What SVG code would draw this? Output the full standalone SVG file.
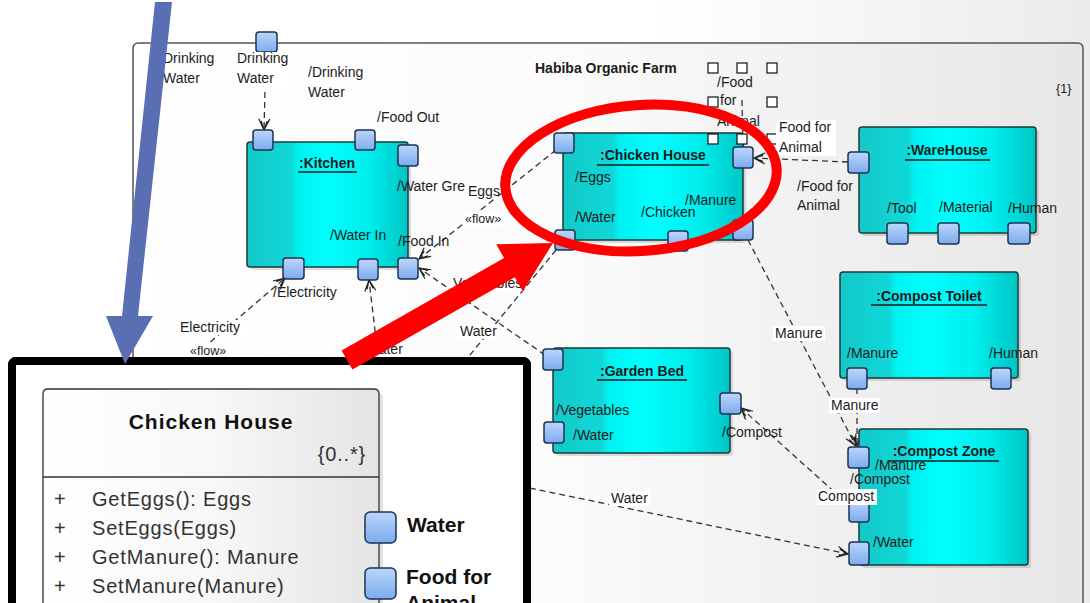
<svg xmlns="http://www.w3.org/2000/svg" width="1090" height="603" viewBox="0 0 1090 603">
<defs>
<linearGradient id="page" x1="0" y1="0" x2="1" y2="0"><stop offset="0" stop-color="#ffffff"/><stop offset="0.6" stop-color="#ffffff"/><stop offset="1" stop-color="#ebebeb"/></linearGradient>
<linearGradient id="frameg" x1="0" y1="0" x2="1" y2="0"><stop offset="0" stop-color="#ffffff"/><stop offset="0.45" stop-color="#fbfbfb"/><stop offset="1" stop-color="#e6e6e6"/></linearGradient>
<linearGradient id="cy" x1="0" y1="0" x2="1" y2="0"><stop offset="0" stop-color="#14c8c8"/><stop offset="0.28" stop-color="#10d8d8"/><stop offset="0.31" stop-color="#00f0f0"/><stop offset="0.5" stop-color="#00ffff"/><stop offset="0.75" stop-color="#00eeee"/><stop offset="1" stop-color="#00c6c6"/></linearGradient>
<linearGradient id="pt" x1="0" y1="0" x2="0" y2="1"><stop offset="0" stop-color="#bcd6fb"/><stop offset="1" stop-color="#7cabef"/></linearGradient>
<linearGradient id="cls" x1="0" y1="0" x2="1" y2="0"><stop offset="0" stop-color="#ffffff"/><stop offset="0.5" stop-color="#f8f8f8"/><stop offset="1" stop-color="#e4e4e4"/></linearGradient>
<marker id="arr" viewBox="0 0 13 13" refX="12" refY="6.5" markerWidth="13" markerHeight="13" markerUnits="userSpaceOnUse" orient="auto">
<path d="M1,1 L12,6.5 L1,12 M3,3.5 L12,6.5 L3,9.5" fill="none" stroke="#222" stroke-width="1.2"/>
</marker>
<style>
.lbl{font-family:"Liberation Sans",Arial,sans-serif;font-size:14px;fill:#1c1c1c}
.sm{font-size:12.5px}
.ttl{font-family:"Liberation Sans",Arial,sans-serif;font-size:14px;font-weight:bold;fill:#1c1c1c;text-anchor:middle}
.ul{stroke:#1c1c1c;stroke-width:1.4}
.node{fill:url(#cy);stroke:#1d3a3a;stroke-width:1.5}
.shadow{fill:#000;opacity:0.12}
.port{fill:url(#pt);stroke:#1c3350;stroke-width:1.5}
.c{fill:none;stroke:#333;stroke-width:1.3;stroke-dasharray:6 4}
.bg{fill:#fff}
.h{fill:#fff;stroke:#111;stroke-width:1.2}
.ins{font-family:"Liberation Sans",Arial,sans-serif;font-size:20px;fill:#333;letter-spacing:0.8px}
.insb{font-family:"Liberation Sans",Arial,sans-serif;font-size:21px;font-weight:bold;fill:#111}
</style>
</defs>

<rect x="0" y="0" width="1090" height="603" fill="url(#page)"/>

<g id="frame">
<rect x="133" y="43" width="950" height="600" rx="5" fill="url(#frameg)" stroke="#555" stroke-width="1.5"/>
<text class="lbl" x="535" y="73" font-weight="bold">Habiba Organic Farm</text>
<text class="lbl sm" x="1056" y="93">{1}</text>
<rect class="port" x="256" y="32" width="21" height="20" rx="3"/>
<text class="lbl" x="163" y="63">Drinking</text>
<text class="lbl" x="163" y="83">Water</text>
</g>

<g id="connectors">
<path class="c" d="M266,52 L264,130" marker-end="url(#arr)"/>
<path class="c" d="M180,368 L285,278" marker-end="url(#arr)"/>
<path class="c" d="M380,372 L369,280" marker-end="url(#arr)"/>
<path class="c" d="M556,150 L419,259" marker-end="url(#arr)"/>
<path class="c" d="M545,355 L419,268" marker-end="url(#arr)"/>
<path class="c" d="M556,250 L447,383"/>
<path class="c" d="M748,240 L856,446" marker-end="url(#arr)"/>
<path class="c" d="M857,388 L857,446" marker-end="url(#arr)"/>
<path class="c" d="M849,505 L741,408" marker-end="url(#arr)"/>
<path class="c" d="M520,486 L848,554" marker-end="url(#arr)"/>
<path class="c" d="M848,162 L754,158" marker-end="url(#arr)"/>
<path class="c" d="M742,100 L743,147" stroke-dasharray="4 3" stroke-width="1"/>
</g>

<g id="kitchen">
<rect class="shadow" x="250" y="145" width="161" height="125" rx="3"/>
<rect class="node" x="247" y="142" width="161" height="125" rx="3"/>
<text class="ttl" x="327" y="168">:Kitchen</text>
<line class="ul" x1="298" y1="172" x2="357" y2="172"/>
<rect class="port" x="253" y="130" width="20" height="20" rx="3"/>
<rect class="port" x="355" y="130" width="20" height="20" rx="3"/>
<rect class="port" x="398" y="145" width="20" height="21" rx="3"/>
<rect class="port" x="283" y="258" width="21" height="21" rx="3"/>
<rect class="port" x="358" y="259" width="20" height="21" rx="3"/>
<rect class="port" x="398" y="258" width="20" height="21" rx="3"/>
<text class="lbl" x="308" y="77">/Drinking</text>
<text class="lbl" x="308" y="97">Water</text>
<text class="lbl" x="377" y="122">/Food Out</text>
<text class="lbl" x="397" y="191">/Water Gre</text>
<text class="lbl" x="330" y="240">/Water In</text>
<text class="lbl" x="398" y="246">/Food In</text>
<text class="lbl" x="273" y="297">/Electricity</text>
</g>

<g id="chicken-house">
<rect class="shadow" x="566" y="136" width="180" height="107" rx="3"/>
<rect class="node" x="563" y="133" width="180" height="107" rx="3"/>
<text class="ttl" x="653" y="160">:Chicken House</text>
<line class="ul" x1="597" y1="165" x2="709" y2="165"/>
<text class="lbl" x="575" y="182">/Eggs</text>
<text class="lbl" x="575" y="222">/Water</text>
<text class="lbl" x="641" y="217">/Chicken</text>
<text class="lbl" x="685" y="205">/Manure</text>
<rect class="port" x="554" y="133" width="20" height="20" rx="3"/>
<rect class="port" x="555" y="230" width="20" height="20" rx="3"/>
<rect class="port" x="668" y="231" width="20" height="20" rx="3"/>
<rect class="port" x="733" y="220" width="20" height="20" rx="3"/>
<rect class="port" x="733" y="147" width="20" height="21" rx="3"/>
<text class="lbl" x="717" y="87">/Food</text>
<text class="lbl" x="720" y="105">for</text>
<text class="lbl" x="717" y="126">Animal</text>
<rect class="h" x="708" y="63" width="10" height="10"/>
<rect class="h" x="737" y="63" width="10" height="10"/>
<rect class="h" x="767" y="63" width="10" height="10"/>
<rect class="h" x="708" y="97" width="10" height="10"/>
<rect class="h" x="767" y="97" width="10" height="10"/>
<rect class="h" x="708" y="134" width="10" height="10"/>
<rect class="h" x="737" y="134" width="10" height="10"/>
<rect class="h" x="767" y="134" width="10" height="10"/>
</g>

<g id="warehouse">
<rect class="shadow" x="862" y="130" width="177" height="106" rx="3"/>
<rect class="node" x="859" y="127" width="177" height="106" rx="3"/>
<text class="ttl" x="947" y="155">:WareHouse</text>
<line class="ul" x1="905" y1="160" x2="990" y2="160"/>
<text class="lbl" x="887" y="213">/Tool</text>
<text class="lbl" x="939" y="212">/Material</text>
<text class="lbl" x="1008" y="213">/Human</text>
<rect class="port" x="848" y="152" width="21" height="21" rx="3"/>
<rect class="port" x="887" y="223" width="21" height="21" rx="3"/>
<rect class="port" x="938" y="223" width="21" height="21" rx="3"/>
<rect class="port" x="1008" y="223" width="22" height="21" rx="3"/>
<text class="lbl" x="797" y="191">/Food for</text>
<text class="lbl" x="797" y="210">Animal</text>
</g>

<g id="compost-toilet">
<rect class="shadow" x="843" y="275" width="178" height="106" rx="3"/>
<rect class="node" x="840" y="272" width="178" height="106" rx="3"/>
<text class="ttl" x="929" y="301">:Compost Toilet</text>
<line class="ul" x1="871" y1="305" x2="987" y2="305"/>
<text class="lbl" x="847" y="358">/Manure</text>
<text class="lbl" x="989" y="358">/Human</text>
<rect class="port" x="847" y="368" width="20" height="21" rx="3"/>
<rect class="port" x="991" y="368" width="20" height="21" rx="3"/>
</g>

<g id="garden-bed">
<rect class="shadow" x="556" y="351" width="177" height="105" rx="3"/>
<rect class="node" x="553" y="348" width="177" height="105" rx="3"/>
<text class="ttl" x="642" y="376">:Garden Bed</text>
<line class="ul" x1="597" y1="380" x2="687" y2="380"/>
<text class="lbl" x="556" y="415">/Vegetables</text>
<text class="lbl" x="573" y="440">/Water</text>
<text class="lbl" x="722" y="437">/Compost</text>
<rect class="port" x="543" y="349" width="20" height="21" rx="3"/>
<rect class="port" x="544" y="422" width="20" height="21" rx="3"/>
<rect class="port" x="720" y="393" width="21" height="21" rx="3"/>
</g>

<g id="compost-zone">
<rect class="shadow" x="862" y="432" width="169" height="136" rx="3"/>
<rect class="node" x="859" y="429" width="169" height="136" rx="3"/>
<text class="ttl" x="944" y="456">:Compost Zone</text>
<line class="ul" x1="889" y1="461" x2="999" y2="461"/>
<rect class="port" x="848" y="447" width="21" height="21" rx="3"/>
<rect class="port" x="849" y="500" width="20" height="22" rx="3"/>
<rect class="port" x="849" y="542" width="20" height="23" rx="3"/>
<text class="lbl" x="875" y="470">/Manure</text>
<text class="lbl" x="850" y="484">/Compost</text>
<text class="lbl" x="873" y="547">/Water</text>
</g>

<g id="connector-labels">
<rect class="bg" x="235" y="52" width="55" height="36"/>
<text class="lbl" x="237" y="63">Drinking</text>
<text class="lbl" x="237" y="83">Water</text>
<rect class="bg" x="466" y="184" width="32" height="15"/>
<text class="lbl" x="468" y="196">Eggs</text>
<rect class="bg" x="463" y="212" width="44" height="14"/>
<text class="lbl sm" x="465" y="223">«flow»</text>
<rect class="bg" x="451" y="276" width="72" height="15"/>
<text class="lbl" x="453" y="288">Vegetables</text>
<rect class="bg" x="458" y="324" width="42" height="15"/>
<text class="lbl" x="460" y="336">Water</text>
<rect class="bg" x="178" y="320" width="70" height="15"/>
<text class="lbl" x="180" y="332">Electricity</text>
<rect class="bg" x="188" y="344" width="46" height="14"/>
<text class="lbl sm" x="190" y="355">«flow»</text>
<rect class="bg" x="364" y="342" width="40" height="15"/>
<text class="lbl" x="366" y="354">Water</text>
<rect class="bg" x="776" y="120" width="60" height="36"/>
<text class="lbl" x="779" y="132">Food for</text>
<text class="lbl" x="779" y="152">Animal</text>
<rect class="bg" x="773" y="326" width="52" height="15"/>
<text class="lbl" x="775" y="338">Manure</text>
<rect class="bg" x="829" y="398" width="51" height="15"/>
<text class="lbl" x="831" y="410">Manure</text>
<rect class="bg" x="816" y="489" width="61" height="16"/>
<text class="lbl" x="818" y="501">Compost</text>
<rect class="bg" x="609" y="491" width="41" height="15"/>
<text class="lbl" x="611" y="503">Water</text>
</g>

<g id="inset">
<rect x="12" y="361" width="515" height="270" rx="4" fill="#fff" stroke="#000" stroke-width="8"/>
<rect x="47" y="393" width="336" height="230" rx="5" fill="#000" opacity="0.12"/>
<path d="M43,394 Q43,389 48,389 L374,389 Q379,389 379,394 L379,620 L43,620 Z" fill="url(#cls)" stroke="#333" stroke-width="1.3"/>
<line x1="43" y1="477" x2="379" y2="477" stroke="#333" stroke-width="1.5"/>
<text class="insb" x="211" y="429" text-anchor="middle" letter-spacing="1">Chicken House</text>
<text class="ins" x="366" y="461" text-anchor="end" font-size="19" letter-spacing="1.5">{0..*}</text>
<text class="ins" x="54" y="506" letter-spacing="0">+</text>
<text class="ins" x="54" y="535" letter-spacing="0">+</text>
<text class="ins" x="54" y="564" letter-spacing="0">+</text>
<text class="ins" x="54" y="593" letter-spacing="0">+</text>
<text class="ins" x="92" y="506">GetEggs(): Eggs</text>
<text class="ins" x="92" y="535">SetEggs(Eggs)</text>
<text class="ins" x="92" y="564">GetManure(): Manure</text>
<text class="ins" x="92" y="593">SetManure(Manure)</text>
<rect class="port" x="365" y="512" width="31" height="31" rx="5"/>
<rect class="port" x="365" y="568" width="31" height="31" rx="5"/>
<text class="insb" x="407" y="532">Water</text>
<text class="insb" x="406" y="584">Food for</text>
<text class="insb" x="406" y="610">Animal</text>
<rect x="12" y="361" width="515" height="270" rx="4" fill="none" stroke="#000" stroke-width="8"/>
</g>

<g id="highlights">
<ellipse cx="641" cy="178" rx="136" ry="73" transform="rotate(-4 641 178)" fill="none" stroke="#ff0000" stroke-width="10"/>
<polygon points="341.6,350.4 504.1,258.1 496.2,244.2 553,243 522.8,291.2 514.9,277.3 352.4,369.6" fill="#ff0000"/>
<polygon points="155,2 172,2 138,316 153,316 125,364 106,316 122,316" fill="#5a6fb3"/>
</g>
</svg>
